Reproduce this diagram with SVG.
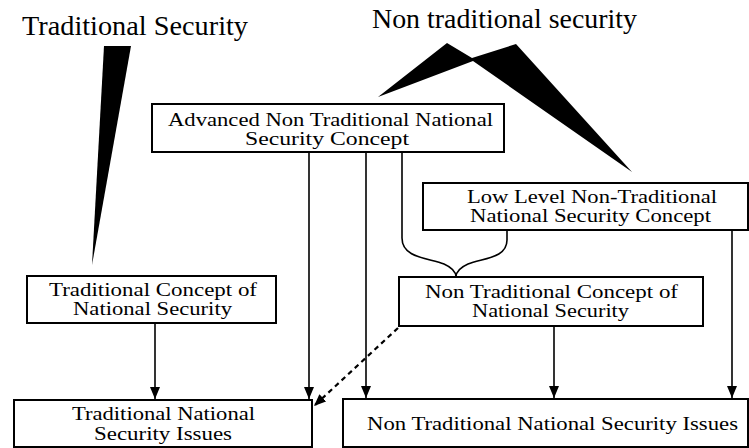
<svg xmlns="http://www.w3.org/2000/svg" width="749" height="448" viewBox="0 0 749 448">
<style>
.box{fill:#fff;stroke:#000;stroke-width:2}
.t{font-family:"Liberation Serif","Times New Roman",serif;font-size:18px;fill:#000}
.title{font-family:"Liberation Serif","Times New Roman",serif;font-size:28px;fill:#000}
.c{fill:none;stroke:#000;stroke-width:1.6}
.d{fill:none;stroke:#000;stroke-width:2.2;stroke-dasharray:5 4}
</style>
<defs>
<marker id="ah" markerUnits="userSpaceOnUse" markerWidth="14" markerHeight="12" refX="12" refY="5" orient="auto">
<path d="M0,0 L12,5 L0,10 Z" fill="#000"/>
</marker>
</defs>
<rect width="749" height="448" fill="#fff"/>
<g id="titles">
<text class="title" x="22" y="35" textLength="226" lengthAdjust="spacingAndGlyphs">Traditional Security</text>
<text class="title" x="372" y="28" textLength="265" lengthAdjust="spacingAndGlyphs">Non traditional security</text>
</g>
<g id="wedges" fill="#000">
<polygon points="104,46 131,46 92,265"/>
<polygon points="378,97 447,43 472,58 516,44 632,172 473,61"/>
</g>
<g id="connectors">
<line class="c" x1="155" y1="323" x2="155" y2="399" marker-end="url(#ah)"/>
<line class="c" x1="309" y1="152" x2="309" y2="399" marker-end="url(#ah)"/>
<line class="c" x1="366" y1="152" x2="366" y2="398" marker-end="url(#ah)"/>
<line class="c" x1="554" y1="326" x2="554" y2="398" marker-end="url(#ah)"/>
<line class="c" x1="732" y1="230" x2="732" y2="398" marker-end="url(#ah)"/>
<path class="c" d="M402,152 L402,238 C402,258 428,258 444,264 C453,268 456,272 456,277"/>
<path class="c" d="M507,230 L507,240 C507,258 484,258 468,264 C459,268 456,272 456,277"/>
<line class="d" x1="398" y1="328" x2="314" y2="406" marker-end="url(#ah)"/>
</g>
<g id="advanced">
<rect class="box" x="152" y="104" width="352" height="48"/>
<text class="t" x="168" y="126" textLength="325" lengthAdjust="spacingAndGlyphs">Advanced Non Traditional National</text>
<text class="t" x="245" y="145" textLength="164" lengthAdjust="spacingAndGlyphs">Security Concept</text>
</g>
<g id="lowlevel">
<rect class="box" x="423" y="183" width="325" height="47"/>
<text class="t" x="467" y="203" textLength="250" lengthAdjust="spacingAndGlyphs">Low Level Non-Traditional</text>
<text class="t" x="470" y="222" textLength="241" lengthAdjust="spacingAndGlyphs">National Security Concept</text>
</g>
<g id="ntconcept">
<rect class="box" x="399" y="277" width="304" height="49"/>
<text class="t" x="425" y="298" textLength="253" lengthAdjust="spacingAndGlyphs">Non Traditional Concept of</text>
<text class="t" x="472" y="317" textLength="157" lengthAdjust="spacingAndGlyphs">National Security</text>
</g>
<g id="tradconcept">
<rect class="box" x="27" y="276" width="249" height="47"/>
<text class="t" x="49" y="296" textLength="208" lengthAdjust="spacingAndGlyphs">Traditional Concept of</text>
<text class="t" x="73" y="315" textLength="159" lengthAdjust="spacingAndGlyphs">National Security</text>
</g>
<g id="tradissues">
<rect class="box" x="14" y="400" width="298" height="47"/>
<text class="t" x="72" y="420" textLength="183" lengthAdjust="spacingAndGlyphs">Traditional National</text>
<text class="t" x="94" y="440" textLength="138" lengthAdjust="spacingAndGlyphs">Security Issues</text>
</g>
<g id="ntissues">
<rect class="box" x="343" y="399" width="405" height="48"/>
<text class="t" x="367" y="430" textLength="371" lengthAdjust="spacingAndGlyphs">Non Traditional National Security Issues</text>
</g>
</svg>
